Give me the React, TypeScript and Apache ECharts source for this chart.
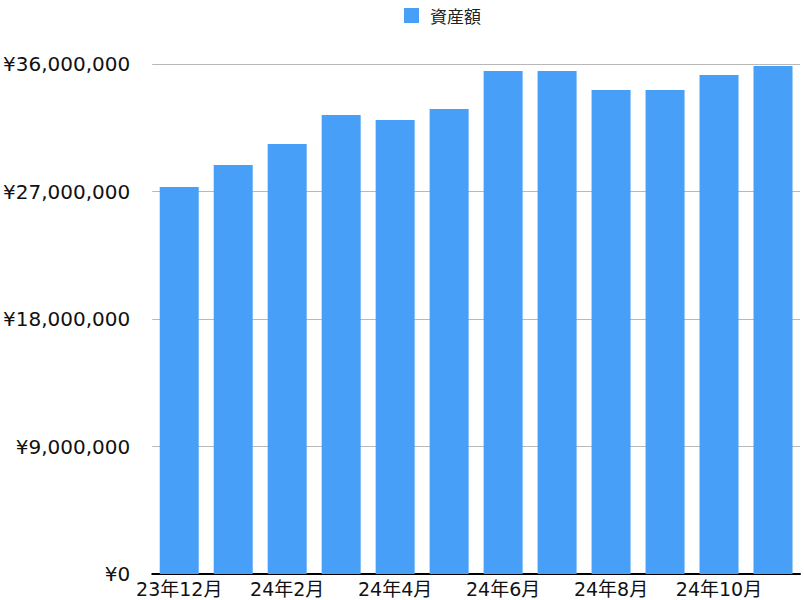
import React, { useEffect, useRef } from "react";
import * as echarts from "echarts";

const categories = ["23年12月", "24年1月", "24年2月", "24年3月", "24年4月", "24年5月", "24年6月", "24年7月", "24年8月", "24年9月", "24年10月", "24年11月"];
const assetValues = [27320000, 28870000, 30350000, 32400000, 32050000, 32820000, 35500000, 35500000, 34160000, 34160000, 35220000, 35860000];
const seriesName = "資産額";

const FONT = "'DejaVu Sans', 'Noto Sans CJK JP', sans-serif";

export default function App() {
  const ref = useRef<HTMLDivElement>(null);
  useEffect(() => {
    if (!ref.current) return;
    const chart = echarts.init(ref.current, undefined, { renderer: "svg" });
    chart.setOption({
      animation: false,
      textStyle: { fontFamily: FONT },
      legend: {
        data: [seriesName],
        top: 7,
        left: 404,
        padding: 0,
        itemWidth: 15,
        itemHeight: 15,
        icon: "rect",
        textStyle: { fontSize: 17, color: "#222", fontFamily: "'Noto Sans CJK JP', sans-serif", padding: [0, 0, 0, 6] },
      },
      grid: { left: 150, right: 4, top: 64, bottom: 26, containLabel: false },
      xAxis: {
        type: "category",
        data: categories,
        axisLine: { lineStyle: { color: "#000", width: 2 } },
        axisTick: { show: false },
        axisLabel: { interval: 1, fontSize: 19, color: "#111", margin: 5, fontFamily: FONT },
      },
      yAxis: {
        type: "value",
        min: 0,
        max: 36000000,
        interval: 9000000,
        axisLine: { show: false },
        axisTick: { show: false },
        splitLine: { lineStyle: { color: "#b8b8b8", width: 1 } },
        axisLabel: {
          fontSize: 20,
          color: "#111",
          margin: 22,
          fontFamily: FONT,
          formatter: (v: number) => "¥" + v.toLocaleString("en-US"),
        },
      },
      series: [
        {
          name: seriesName,
          type: "bar",
          data: assetValues,
          barWidth: 39,
          itemStyle: { color: "#479FF8" },
        },
      ],
    });
    return () => chart.dispose();
  }, []);
  return <div ref={ref} style={{ position: "absolute", left: 0, top: 0, width: 804, height: 600 }} />;
}
